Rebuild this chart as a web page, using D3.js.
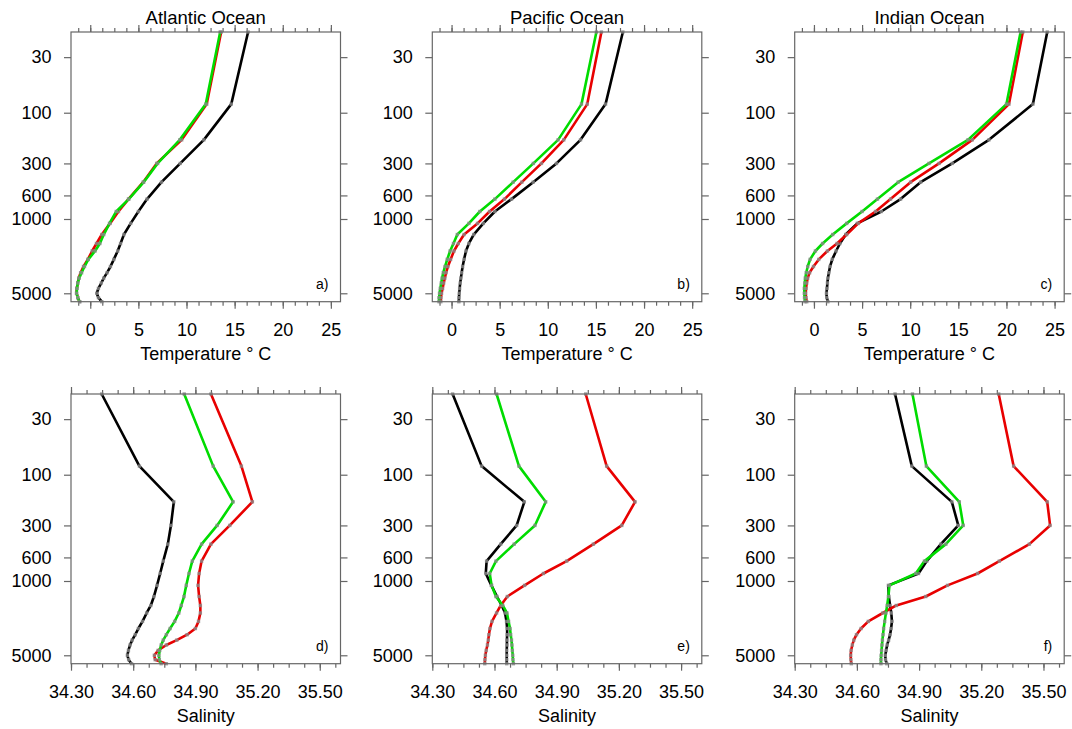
<!DOCTYPE html>
<html>
<head>
<meta charset="utf-8">
<script src="https://cdn.jsdelivr.net/npm/d3@7"></script>
<style>
  body { margin: 0; background: #fff; }
  text { font-family: "Liberation Sans", Arial, Helvetica, sans-serif; fill: #000; }
</style>
</head>
<body>
<svg id="chart" width="1072" height="729"></svg>
<script>
// Depth levels (m) shared by every profile
const depth = [17.4, 83, 180, 300, 450, 650, 850, 1100, 1400, 1700, 2000, 2400, 2800, 3200, 3600, 4000, 4500, 5000, 5500, 6000];

const oceans = ["Atlantic Ocean", "Pacific Ocean", "Indian Ocean"];
const depthTicks = [30, 100, 300, 600, 1000, 5000];
const tempTicks = [0, 5, 10, 15, 20, 25];
const salTicks = [34.3, 34.6, 34.9, 35.2, 35.5];
const panelTags = ["a)", "b)", "c)", "d)", "e)", "f)"];
const seriesColors = ["#000000", "#e80000", "#00dc00"];

// Temperature profiles (°C): black, red, green
const atlTempBlack = [16.4, 14.65, 11.8, 9.35, 7.4, 5.9, 5.0, 4.2, 3.5, 3.15, 2.85, 2.45, 2.1, 1.75, 1.4, 1.15, 0.85, 0.68, 0.85, 1.2];
const atlTempRed   = [13.6, 12.1, 9.5, 6.9, 5.5, 3.97, 2.93, 2.06, 1.2, 0.65, 0.2, -0.25, -0.7, -1.0, -1.2, -1.3, -1.4, -1.42, -1.3, -1.1];
const atlTempGreen = [13.5, 12.0, 9.3, 7.0, 5.55, 4.0, 2.7, 2.0, 1.4, 1.0, 0.5, -0.2, -0.6, -0.9, -1.15, -1.3, -1.38, -1.42, -1.3, -1.1];

const pacTempBlack = [17.8, 16.0, 13.4, 10.9, 8.48, 6.23, 4.5, 3.3, 2.3, 1.8, 1.5, 1.3, 1.15, 1.05, 0.97, 0.9, 0.84, 0.8, 0.77, 0.76];
const pacTempRed   = [15.57, 14.1, 11.66, 9.34, 7.3, 5.5, 3.95, 2.7, 1.3, 0.7, 0.25, -0.1, -0.38, -0.57, -0.7, -0.82, -0.93, -1.04, -1.1, -1.12];
const pacTempGreen = [15.05, 13.5, 11.07, 8.5, 6.4, 4.5, 2.94, 1.8, 0.6, 0.2, -0.15, -0.45, -0.68, -0.86, -0.98, -1.07, -1.17, -1.25, -1.3, -1.3];

const indTempBlack = [24.24, 22.75, 18.18, 14.37, 11.08, 9.0, 7.0, 4.5, 3.3, 2.7, 2.3, 1.9, 1.67, 1.55, 1.45, 1.4, 1.35, 1.3, 1.33, 1.45];
const indTempRed   = [21.7, 20.26, 16.45, 13.0, 10.04, 7.96, 6.4, 4.6, 3.4, 2.4, 1.4, 0.5, -0.05, -0.45, -0.65, -0.75, -0.82, -0.86, -0.82, -0.75];
const indTempGreen = [21.47, 20.0, 16.0, 11.95, 8.75, 6.6, 5.0, 3.4, 1.95, 0.9, 0.15, -0.4, -0.65, -0.8, -0.9, -0.95, -1.0, -1.0, -0.98, -0.93];

// Salinity profiles: black, red, green
const atlSalBlack = [34.448, 34.63, 34.796, 34.782, 34.767, 34.745, 34.73, 34.715, 34.7, 34.685, 34.665, 34.645, 34.625, 34.61, 34.595, 34.585, 34.577, 34.572, 34.578, 34.592];
const atlSalRed   = [34.975, 35.122, 35.175, 35.066, 34.975, 34.93, 34.918, 34.913, 34.918, 34.924, 34.924, 34.915, 34.9, 34.86, 34.81, 34.76, 34.72, 34.702, 34.706, 34.76];
const atlSalGreen = [34.846, 34.986, 35.082, 35.005, 34.93, 34.885, 34.869, 34.856, 34.845, 34.832, 34.82, 34.8, 34.778, 34.76, 34.745, 34.735, 34.728, 34.724, 34.726, 34.735];

const pacSalBlack = [34.398, 34.538, 34.744, 34.707, 34.63, 34.562, 34.558, 34.585, 34.612, 34.635, 34.651, 34.658, 34.661, 34.661, 34.66, 34.66, 34.659, 34.659, 34.659, 34.659];
const pacSalRed   = [35.04, 35.141, 35.278, 35.214, 35.077, 34.948, 34.836, 34.745, 34.662, 34.63, 34.61, 34.588, 34.578, 34.573, 34.57, 34.566, 34.56, 34.556, 34.554, 34.553];
const pacSalGreen = [34.61, 34.718, 34.847, 34.795, 34.695, 34.607, 34.577, 34.586, 34.607, 34.64, 34.66, 34.668, 34.675, 34.678, 34.682, 34.684, 34.686, 34.688, 34.689, 34.691];

const indSalBlack = [34.784, 34.865, 35.058, 35.089, 35.005, 34.937, 34.897, 34.752, 34.754, 34.76, 34.766, 34.769, 34.765, 34.76, 34.753, 34.746, 34.741, 34.737, 34.738, 34.744];
const indSalRed   = [35.284, 35.356, 35.518, 35.532, 35.432, 35.287, 35.182, 35.037, 34.932, 34.79, 34.725, 34.655, 34.62, 34.598, 34.585, 34.578, 34.572, 34.57, 34.571, 34.573];
const indSalGreen = [34.868, 34.935, 35.094, 35.113, 35.029, 34.926, 34.884, 34.757, 34.752, 34.746, 34.74, 34.734, 34.729, 34.726, 34.723, 34.721, 34.719, 34.717, 34.716, 34.716];

// Panel layout
const colLeft = [71, 432.3, 794.7];
const rowTop = [32, 394];
const W = 269.5, H = 269.7;

const rows = [
  {
    domain: [-2, 26], ticks: tempTicks, minorStep: 1.25, label: "Temperature \u00b0 C",
    fmt: d3.format("d"),
    series: [
      [atlTempBlack, atlTempRed, atlTempGreen],
      [pacTempBlack, pacTempRed, pacTempGreen],
      [indTempBlack, indTempRed, indTempGreen]
    ]
  },
  {
    domain: [34.3, 35.6], ticks: salTicks, minorStep: 0.075, label: "Salinity",
    fmt: d3.format(".2f"),
    series: [
      [atlSalBlack, atlSalRed, atlSalGreen],
      [pacSalBlack, pacSalRed, pacSalGreen],
      [indSalBlack, indSalRed, indSalGreen]
    ]
  }
];

const svg = d3.select("#chart");
const frameColor = "#666";

rows.forEach((row, r) => {
  // minor ticks aligned to the major grid
  const minorTicks = d3.range(
      Math.ceil((row.domain[0] - row.ticks[0]) / row.minorStep),
      Math.floor((row.domain[1] - row.ticks[0]) / row.minorStep) + 1)
    .map(k => +(row.ticks[0] + k * row.minorStep).toFixed(4));

  oceans.forEach((ocean, c) => {
    const g = svg.append("g").attr("transform", `translate(${colLeft[c]},${rowTop[r]})`);
    const x = d3.scaleLinear().domain(row.domain).range([0, W]);
    const y = d3.scaleLog().domain([17.4, 6000]).range([0, H]);

    // minor ticks
    g.append("g").attr("class", "ax").attr("transform", `translate(0,${H})`)
      .call(d3.axisBottom(x).tickValues(minorTicks).tickSize(4).tickFormat(""));
    g.append("g").attr("class", "ax")
      .call(d3.axisTop(x).tickValues(minorTicks).tickSize(4).tickFormat(""));

    // major ticks
    g.append("g").attr("class", "ax xb").attr("transform", `translate(0,${H})`)
      .call(d3.axisBottom(x).tickValues(row.ticks).tickSize(7).tickPadding(14.7).tickFormat(row.fmt));
    g.append("g").attr("class", "ax")
      .call(d3.axisTop(x).tickValues(row.ticks).tickSize(7).tickFormat(""));
    g.append("g").attr("class", "ax yl")
      .call(d3.axisLeft(y).tickValues(depthTicks).tickSize(7).tickPadding(12.5).tickFormat(d3.format("d")));
    g.append("g").attr("class", "ax").attr("transform", `translate(${W},0)`)
      .call(d3.axisRight(y).tickValues(depthTicks).tickSize(7).tickFormat(""));

    g.selectAll(".ax path.domain").remove();
    g.selectAll(".ax line").attr("stroke", frameColor).attr("stroke-width", 1.2);
    g.selectAll(".ax text").attr("font-size", 18).attr("font-family", '"Liberation Sans", Arial, sans-serif').attr("fill", "#000");

    // profiles
    const line = d3.line().x(d => x(d.v)).y(d => y(d.d));
    row.series[c].forEach((vals, s) => {
      const pts = depth.map((d, i) => ({ d, v: vals[i] }));
      g.append("path").datum(pts)
        .attr("d", line)
        .attr("fill", "none")
        .attr("stroke", seriesColors[s])
        .attr("stroke-width", 2.6)
        .attr("stroke-linejoin", "round");
      g.append("g").selectAll("rect").data(pts).join("rect")
        .attr("x", d => x(d.v) - 1.7)
        .attr("y", d => y(d.d) - 1.7)
        .attr("width", 3.4).attr("height", 3.4)
        .attr("fill", "#8a8a8a").attr("opacity", 0.8);
    });

    // frame
    g.append("rect").attr("width", W).attr("height", H)
      .attr("fill", "none").attr("stroke", frameColor).attr("stroke-width", 1.2);

    // texts
    if (r === 0) {
      g.append("text").attr("x", W / 2).attr("y", -8)
        .attr("text-anchor", "middle").attr("font-size", 18.5).text(ocean);
    }
    g.append("text").attr("x", W / 2).attr("y", H + 58.4)
      .attr("text-anchor", "middle").attr("font-size", 18).text(row.label);
    g.append("text").attr("x", W - 12).attr("y", H - 13)
      .attr("text-anchor", "end").attr("font-size", 14).text(panelTags[r * 3 + c]);
  });
});
</script>
</body>
</html>
